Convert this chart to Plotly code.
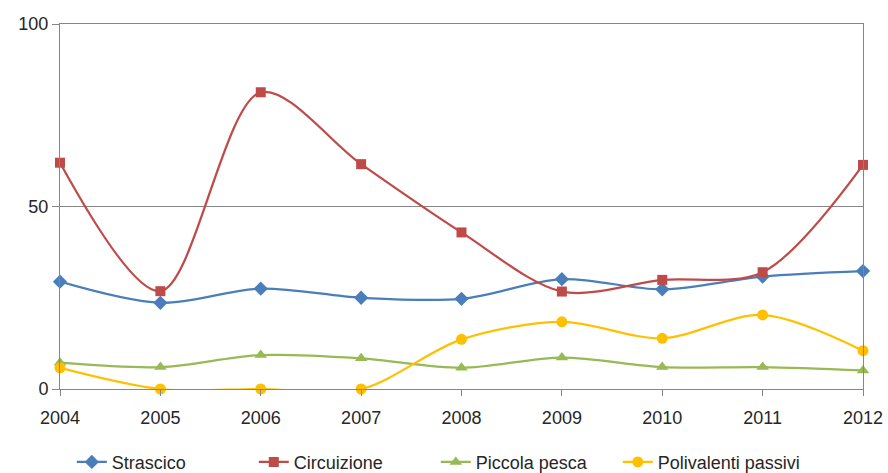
import plotly.graph_objects as go

years = [2004, 2005, 2006, 2007, 2008, 2009, 2010, 2011, 2012]
strascico = [29.4, 23.6, 27.5, 25.0, 24.7, 30.1, 27.3, 30.8, 32.3]
circuizione = [62.0, 26.8, 81.3, 61.6, 42.9, 26.7, 29.9, 32.0, 61.4]
piccola_pesca = [7.2, 6.0, 9.3, 8.4, 5.8, 8.6, 6.0, 6.0, 5.1]
polivalenti_passivi = [5.8, 0.0, 0.0, 0.0, 13.6, 18.4, 13.9, 20.3, 10.5]

series = [
    ("Strascico", strascico, "#4A7EBB", "diamond", 11),
    ("Circuizione", circuizione, "#BE4B48", "square", 10),
    ("Piccola pesca", piccola_pesca, "#98B954", "triangle-up", 11),
    ("Polivalenti passivi", polivalenti_passivi, "#FFC000", "circle", 11),
]

FONT = "Liberation Sans Narrow, Arial Narrow, sans-serif"

fig = go.Figure()
for name, vals, color, symbol, size in series:
    fig.add_trace(go.Scatter(
        x=years, y=vals, name=name, mode="lines+markers",
        line=dict(color=color, width=2.25, shape="spline", smoothing=0.9),
        marker=dict(symbol=symbol, size=size, color=color),
        cliponaxis=False,
    ))

fig.update_layout(
    width=888, height=473,
    margin=dict(l=60, r=25, t=24, b=84, autoexpand=False),
    paper_bgcolor="white", plot_bgcolor="white",
    font=dict(family=FONT, size=18, color="#262626"),
    showlegend=True,
    legend=dict(
        orientation="h", x=0.468, xanchor="center", y=-0.150, yanchor="top",
        font=dict(family=FONT, size=18, color="#262626"),
        entrywidth=137, itemwidth=30, tracegroupgap=0,
    ),
    xaxis=dict(
        range=[2004, 2012], tickmode="array", tickvals=years,
        ticktext=[str(y) for y in years],
        showgrid=False, zeroline=False,
        showline=True, linecolor="#868686", linewidth=1, mirror=True,
        ticks="outside", ticklen=6, tickcolor="#868686",
        ticklabelstandoff=6,
        tickfont=dict(family=FONT, size=18),
    ),
    yaxis=dict(
        range=[0, 100], tickmode="array", tickvals=[0, 50, 100],
        showgrid=True, gridcolor="#868686", gridwidth=1, zeroline=False,
        showline=True, linecolor="#868686", linewidth=1, mirror=True,
        ticks="outside", ticklen=7, tickcolor="#868686",
        tickfont=dict(family=FONT, size=18),
    ),
)

fig.write_html("out.html")
